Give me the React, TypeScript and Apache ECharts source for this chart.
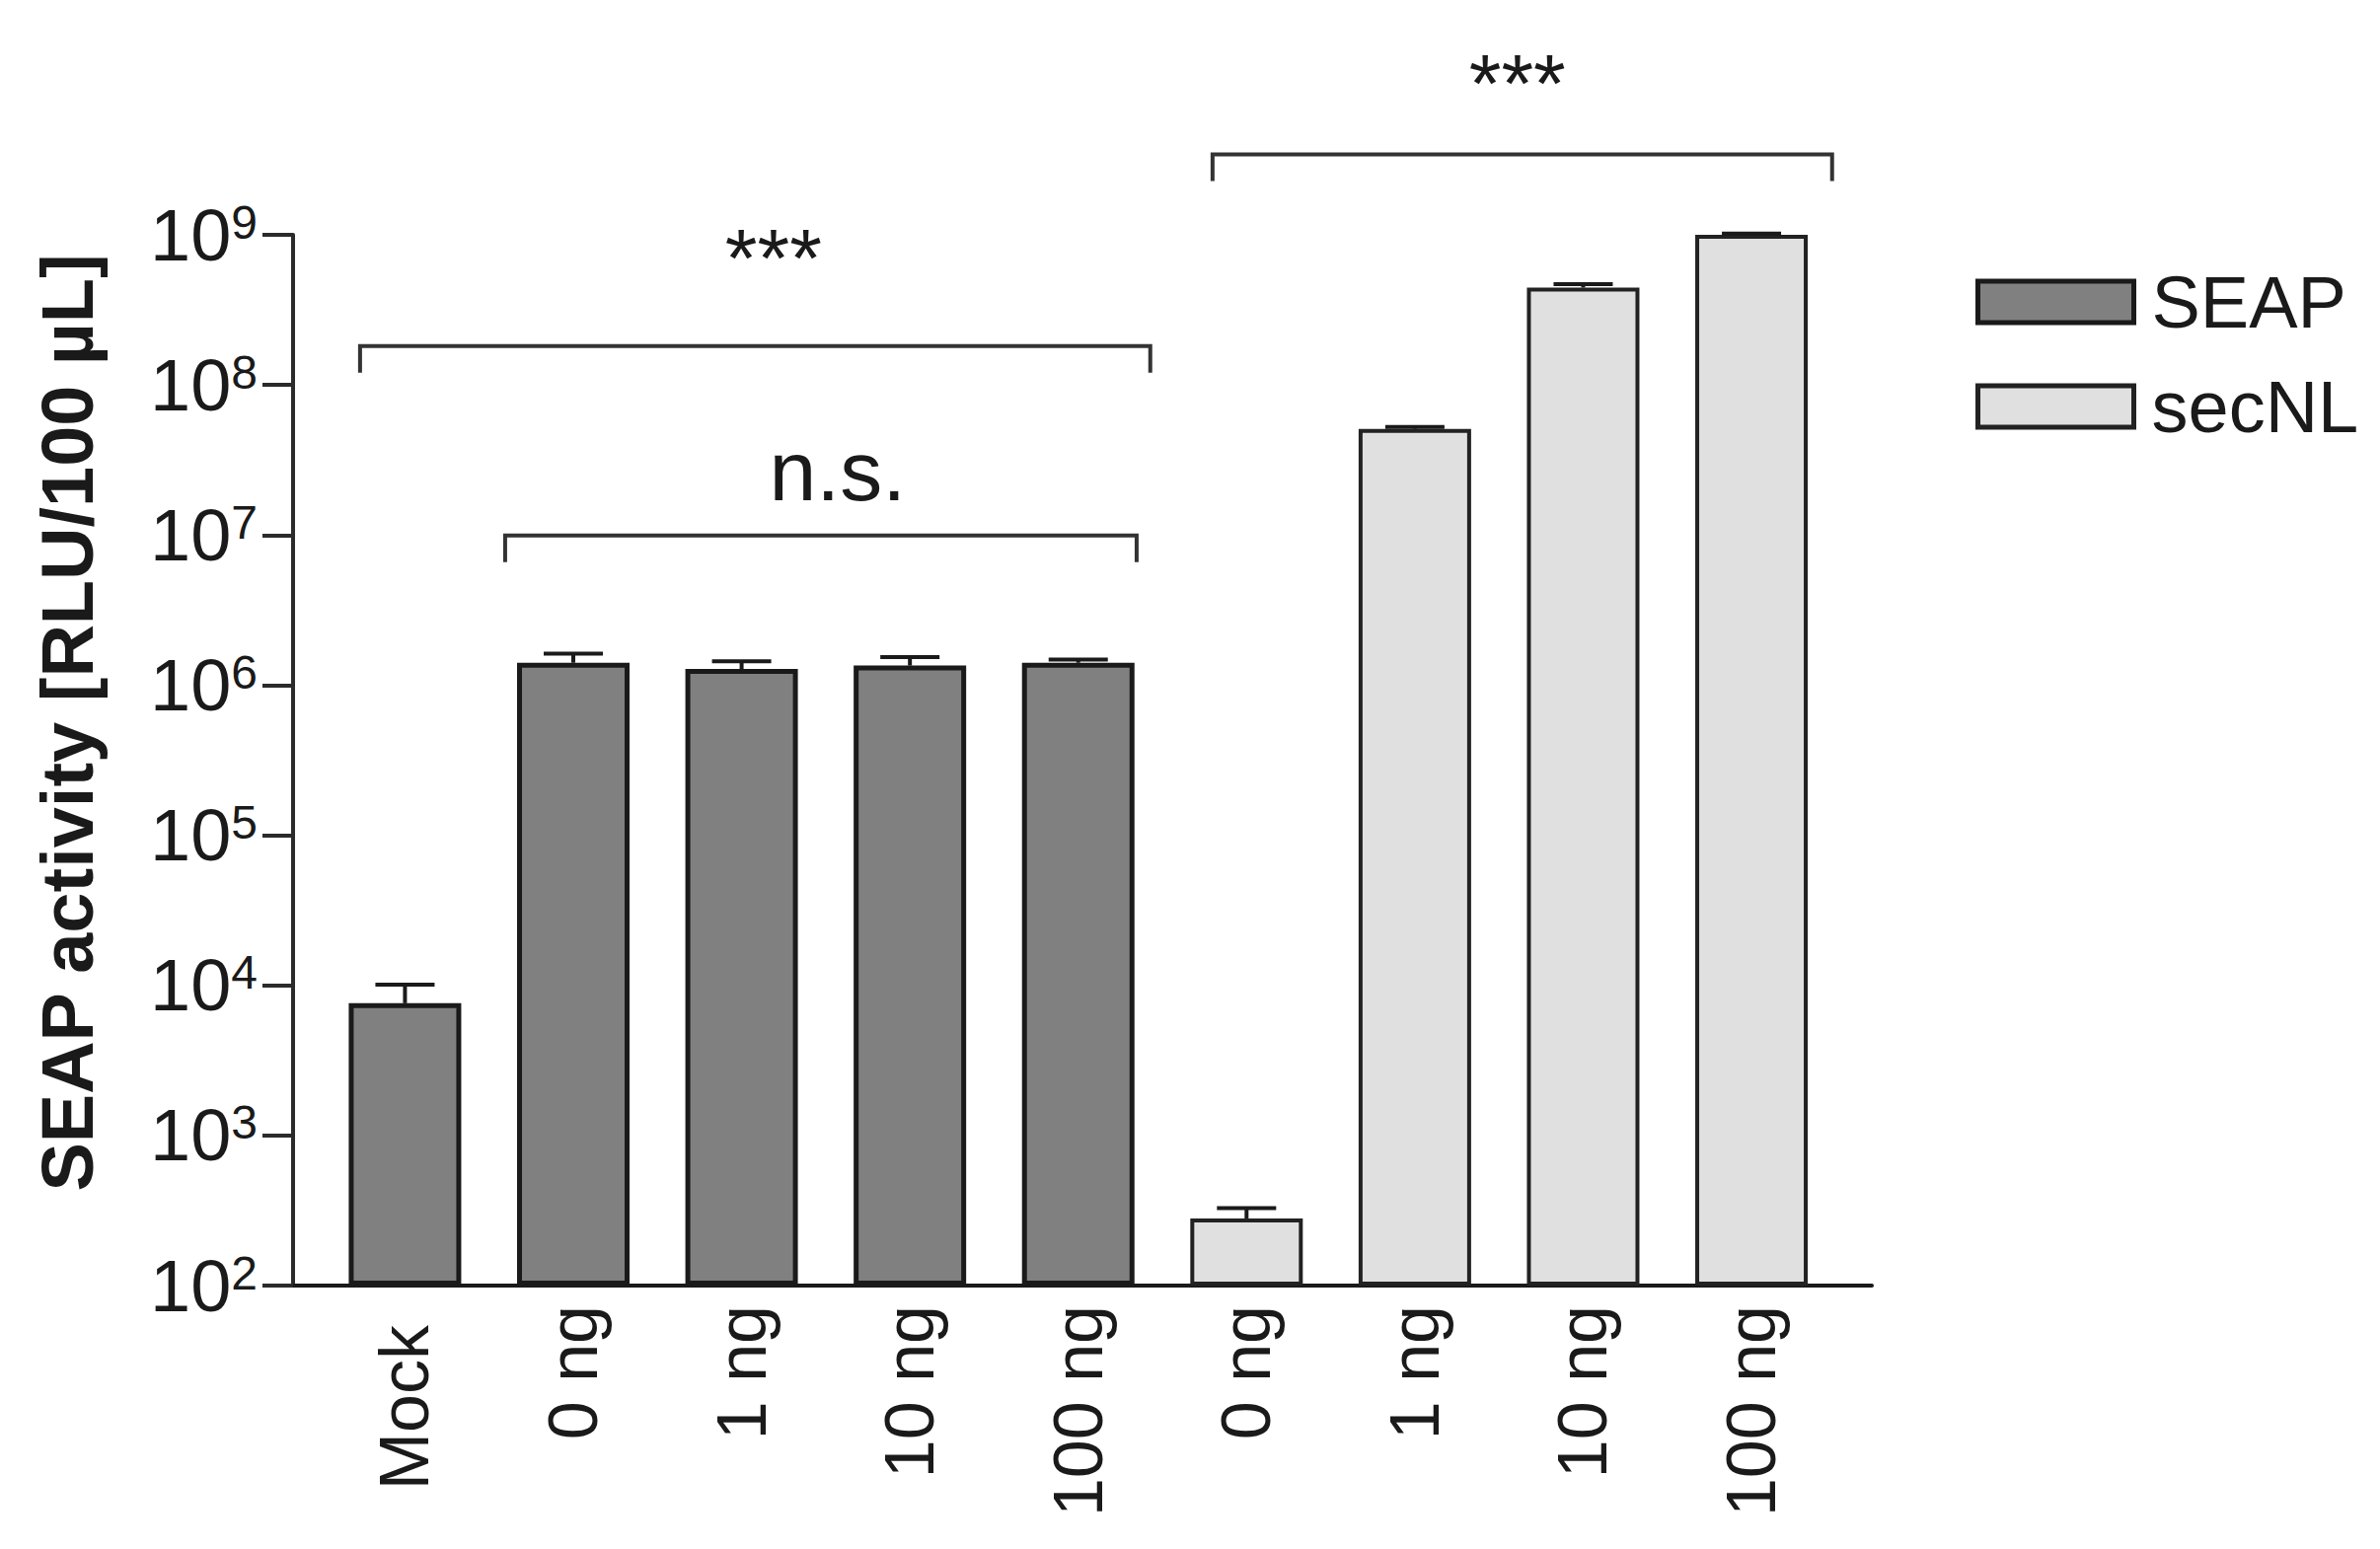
import React, { useEffect, useRef } from "react";
import * as echarts from "echarts";

// ---------- data ----------
const categories = ["Mock", "0 ng", "1 ng", "10 ng", "100 ng", "0 ng", "1 ng", "10 ng", "100 ng"];
const seapIndex = [0, 1, 2, 3, 4];
const seapValues = [7600, 1.41e6, 1.28e6, 1.35e6, 1.41e6];
const seapErrTop = [10100, 1.62e6, 1.44e6, 1.54e6, 1.48e6];
const secnlIndex = [5, 6, 7, 8];
const secnlValues = [280, 5.1e7, 4.45e8, 1.0e9];
const secnlErrTop = [328, 5.25e7, 4.7e8, 1.02e9];
// significance brackets: from / to (category units), level (y value), label centre and level
const bracketFrom = [-0.267, 0.595, 4.798];
const bracketTo = [4.428, 4.347, 8.479];
const bracketLevel = [1.816e8, 9.93e6, 3.43e9];
const bracketLabelX = [2.189, 2.57, 6.609];
const bracketLabelLevel = [7.0e8, 2.67e7, 1.02e10];
const bracketLabels = ["***", "n.s.", "***"];

const FONT = "'Liberation Sans', Arial, Helvetica, sans-serif";
const INK = "#1a1a1a";

export default function App() {
  const ref = useRef<HTMLDivElement>(null);
  useEffect(() => {
    if (!ref.current) return;
    const chart = echarts.init(ref.current, undefined, { renderer: "svg" });

    const errData = [
      ...seapIndex.map((x, i) => [x, seapValues[i], seapErrTop[i]]),
      ...secnlIndex.map((x, i) => [x, secnlValues[i], secnlErrTop[i]]),
    ];
    const bracketData = bracketFrom.map((f, i) => [f, bracketLevel[i], bracketTo[i], bracketLabelLevel[i], bracketLabelX[i]]);

    const option: any = {
      animation: false,
      backgroundColor: "#ffffff",
      grid: { left: 297, top: 238, width: 1600, height: 1065, containLabel: false },
      legend: {
        orient: "vertical",
        left: 1997,
        top: 264,
        itemWidth: 158,
        itemHeight: 42,
        itemGap: 32,
        icon: "rect",
        data: ["SEAP", "secNL"],
        itemStyle: { borderWidth: 5 },
        textStyle: { fontSize: 74, color: INK, fontFamily: FONT, padding: [0, 0, 0, 13] },
      },
      xAxis: {
        type: "value",
        min: -0.665,
        max: 8.715,
        splitLine: { show: false },
        axisTick: { show: false },
        axisLine: { show: true, onZero: false, lineStyle: { color: INK, width: 4 } },
        axisLabel: {
          customValues: categories.map((_, i) => i),
          rotate: 90,
          margin: 20,
          fontSize: 70,
          fontFamily: FONT,
          color: INK,
          formatter: (v: number) => {
            const i = Math.round(v);
            return i === 0 ? `{m|${categories[i]}}` : categories[i];
          },
          rich: { m: { fontSize: 70, fontFamily: FONT, color: INK, padding: [0, 20, 0, 0] } },
        },
      },
      yAxis: {
        type: "log",
        logBase: 10,
        min: 100,
        max: 1e9,
        splitNumber: 7,
        startValue: 100,
        splitLine: { show: false },
        minorTick: { show: false },
        axisLine: { show: true, onZero: false, lineStyle: { color: "#2b2b2b", width: 4 } },
        axisTick: { show: true, length: 31, lineStyle: { color: "#2b2b2b", width: 4 } },
        axisLabel: {
          margin: 36,
          formatter: (v: number) => `{b|10}{s|${Math.round(Math.log10(v))}}`,
          rich: {
            b: { fontSize: 74, lineHeight: 74, fontFamily: FONT, color: INK, verticalAlign: "middle" },
            s: { fontSize: 48, lineHeight: 34, fontFamily: FONT, color: INK, verticalAlign: "top" },
          },
        },
        name: "SEAP activity [RLU/100 µL]",
        nameLocation: "middle",
        nameGap: 192,
        nameTextStyle: {
          fontSize: 74,
          fontWeight: "bold",
          fontFamily: FONT,
          color: INK,
          padding: [0, 0, 0, 76],
        },
      },
      series: [
        {
          name: "SEAP",
          type: "bar",
          data: seapIndex.map((x, i) => [x, seapValues[i]]),
          barWidth: 114,
          barGap: "-100%",
          clip: true,
          itemStyle: { color: "#808080", borderColor: INK, borderWidth: 5 },
        },
        {
          name: "secNL",
          type: "bar",
          data: secnlIndex.map((x, i) => [x, secnlValues[i]]),
          barWidth: 114,
          barGap: "-100%",
          clip: true,
          itemStyle: { color: "#e0e0e0", borderColor: "#222222", borderWidth: 4 },
        },
        {
          name: "err",
          type: "custom",
          data: errData,
          z: 5,
          renderItem: (params: any, api: any) => {
            const x = api.value(0);
            const base = api.coord([x, api.value(1)]);
            const top = api.coord([x, api.value(2)]);
            const half = 30;
            return {
              type: "group",
              children: [
                { type: "line", shape: { x1: base[0], y1: base[1], x2: top[0], y2: top[1] }, style: { stroke: INK, lineWidth: 4 } },
                { type: "line", shape: { x1: top[0] - half, y1: top[1], x2: top[0] + half, y2: top[1] }, style: { stroke: INK, lineWidth: 4 } },
              ],
            };
          },
        },
        {
          name: "brackets",
          type: "custom",
          data: bracketData,
          z: 5,
          renderItem: (params: any, api: any) => {
            const a = api.coord([api.value(0), api.value(1)]);
            const b = api.coord([api.value(2), api.value(1)]);
            const lab = api.coord([api.value(4), api.value(3)]);
            const drop = 27;
            const label = bracketLabels[params.dataIndex];
            return {
              type: "group",
              children: [
                {
                  type: "polyline",
                  shape: { points: [[a[0], a[1] + drop], [a[0], a[1]], [b[0], b[1]], [b[0], b[1] + drop]] },
                  style: { stroke: "#333333", lineWidth: 4, fill: "none" },
                },
                {
                  type: "text",
                  x: lab[0],
                  y: lab[1],
                  style: {
                    text: label,
                    fontSize: label === "n.s." ? 86 : 84,
                    fontFamily: FONT,
                    fill: INK,
                    align: "center",
                    verticalAlign: "middle",
                  },
                },
              ],
            };
          },
        },
      ],
    };
    chart.setOption(option);
    return () => chart.dispose();
  }, []);

  return (
    <div
      ref={ref}
      style={{ position: "fixed", left: 0, top: 0, width: 2412, height: 1570, background: "#ffffff" }}
    />
  );
}
